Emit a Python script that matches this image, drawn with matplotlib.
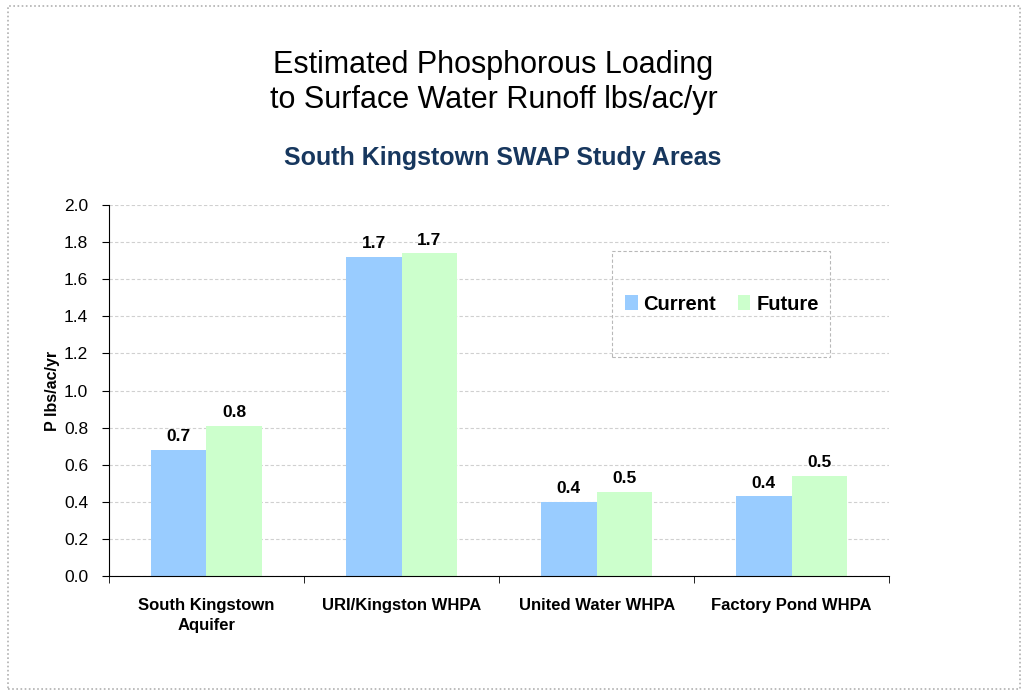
import matplotlib.pyplot as plt
import numpy as np
from matplotlib.patches import Rectangle

plt.rcParams['font.family'] = ['Liberation Sans', 'DejaVu Sans']

# data
areas = ['South Kingstown\nAquifer', 'URI/Kingston WHPA', 'United Water WHPA', 'Factory Pond WHPA']
current = [0.68, 1.72, 0.40, 0.43]
future = [0.81, 1.74, 0.455, 0.54]
current_labels = ['0.7', '1.7', '0.4', '0.4']
future_labels = ['0.8', '1.7', '0.5', '0.5']

fig = plt.figure(figsize=(10.28, 6.95), dpi=100)
ax = fig.add_axes([0.106, 0.171, 0.759, 0.534])

x = np.arange(len(areas))
w = 0.285
b1 = ax.bar(x - w / 2, current, w, color='#99CCFF', label='Current')
b2 = ax.bar(x + w / 2, future, w, color='#CCFFCC', label='Future')

# value labels above the bars
for bars, labs in [(b1, current_labels), (b2, future_labels)]:
    for b, t in zip(bars, labs):
        ax.annotate(t, (b.get_x() + b.get_width() / 2, b.get_height()),
                    xytext=(0, 4), textcoords='offset points',
                    ha='center', va='bottom', fontsize=12.5, fontweight='bold')

ax.set_xlim(-0.5, len(areas) - 0.5)
ax.set_ylim(0, 2.0)
ax.set_yticks(np.arange(0, 2.01, 0.2))
ax.set_yticklabels(['%.1f' % v for v in np.arange(0, 2.01, 0.2)], fontsize=12.5)
ax.set_xticks(x)
ax.set_xticklabels(areas, fontsize=12, fontweight='bold', linespacing=1.35)
ax.tick_params(axis='x', which='major', length=0, pad=16)
ax.set_xticks(np.arange(-0.5, len(areas), 1), minor=True)
ax.tick_params(axis='x', which='minor', length=5, direction='out')
ax.tick_params(axis='y', length=5, direction='out', pad=10)

ax.set_ylabel('P lbs/ac/yr', fontsize=11.5, fontweight='bold', labelpad=3)
ax.yaxis.grid(True, color='#d0d0d0', linestyle=(0, (3, 2)), linewidth=0.8)
ax.set_axisbelow(True)
for s in ['top', 'right']:
    ax.spines[s].set_visible(False)

leg = ax.legend(loc='center', bbox_to_anchor=(0.786, 0.733), ncol=2, frameon=False,
                prop={'weight': 'bold', 'size': 14.5},
                handlelength=0.6, handleheight=0.75, handletextpad=0.3,
                columnspacing=1.1)
# dashed box around the legend
ax.add_patch(Rectangle((0.645, 0.590), 0.279, 0.286, transform=ax.transAxes,
                       fill=False, edgecolor='#b8b8b8', linestyle=(0, (3, 2)),
                       linewidth=0.8, zorder=3))

fig.text(0.48, 0.906, 'Estimated Phosphorous Loading', ha='center', va='center', fontsize=22)
fig.text(0.48, 0.856, 'to Surface Water Runoff lbs/ac/yr', ha='center', va='center', fontsize=22)
fig.text(0.489, 0.772, 'South Kingstown SWAP Study Areas', ha='center', va='center',
         fontsize=18, fontweight='bold', color='#17375E')

# dotted border around the whole chart
fig.patches.append(Rectangle((0.008, 0.008), 0.984, 0.984, transform=fig.transFigure,
                             fill=False, edgecolor='#b0b0b0', linestyle=(0, (1, 1.5)),
                             linewidth=1.2))

fig.savefig('out.png', dpi=100)
